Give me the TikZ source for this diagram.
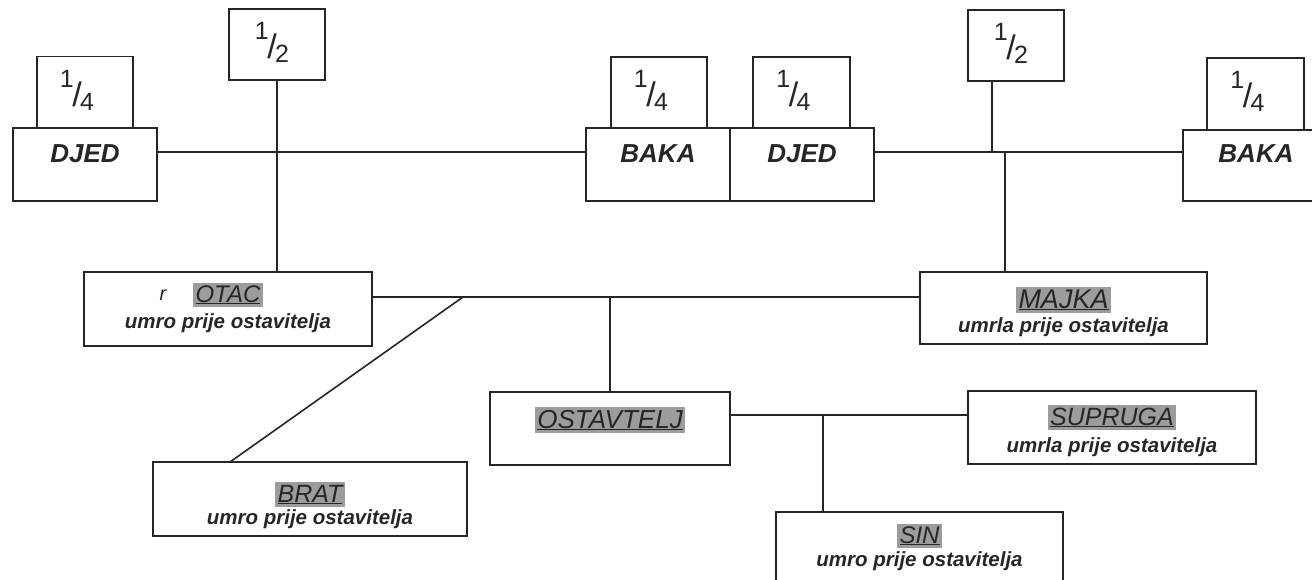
\documentclass[tikz,border=0pt]{standalone}
\usepackage{fontspec}
\setmainfont{Liberation Sans}
\definecolor{ink}{HTML}{262626}
\definecolor{hl}{HTML}{9C9C9C}
\newcommand{\myfrac}[2]{{\fontsize{25}{25}\selectfont\raisebox{19pt}{#1}}\kern-1.5pt{\fontsize{34}{34}\selectfont/}\kern-1.5pt{\fontsize{25}{25}\selectfont\raisebox{-4pt}{#2}}}
\newcommand{\hlword}[2]{{\setlength{\fboxsep}{2.5pt}\colorbox{hl}{\fontsize{#1}{#1}\selectfont\itshape\underline{#2}}}}
\begin{document}
\begin{tikzpicture}[x=1pt,y=-1pt,
  box/.style={draw=ink, line width=1.6pt, fill=white, inner sep=0pt, outer sep=0pt},
  share/.style={box, minimum width=96pt, minimum height=71pt},
  person/.style={box, minimum width=144pt, minimum height=73pt},
  fracnode/.style={anchor=base, inner sep=0pt, text=ink},
  pname/.style={font=\fontsize{26}{26}\selectfont\bfseries\itshape, text=ink, anchor=base, inner sep=0pt},
  subtxt/.style={font=\fontsize{20.5}{20.5}\selectfont\bfseries\itshape, text=ink, anchor=base, inner sep=0pt},
  wordtxt/.style={text=ink, anchor=base, inner sep=0pt},
  link/.style={draw=ink, line width=1.6pt}]
\useasboundingbox (0,0) rectangle (1312,580);
\fill[white] (0,0) rectangle (1312,580);
\clip (0,0) rectangle (1312,580);

% junction coordinates
\coordinate (jL) at (276,152);
\coordinate (jR1) at (992,152);
\coordinate (jR2) at (1005,152);
\coordinate (jM) at (463,297);
\coordinate (jO) at (610,297);
\coordinate (jS) at (823,415);

% share boxes
\node[share] (q1) at (85,92) {};
\node[share] (h1) at (277,44.5) {};
\node[share] (q2) at (659,92.5) {};
\node[share, minimum width=97pt] (q3) at (801.5,92.5) {};
\node[share] (h2) at (1016,45.5) {};
\node[share, minimum width=97pt, minimum height=72pt] (q4) at (1255.5,94) {};

% person boxes
\node[person] (djed1) at (85,164.5) {};
\node[person] (baka1) at (658,164.5) {};
\node[person] (djed2) at (802,164.5) {};
\node[person, minimum width=146pt, minimum height=71pt] (baka2) at (1256,165.5) {};

\node[box, minimum width=288pt, minimum height=74pt] (otac) at (228,309) {};
\node[box, minimum width=287pt, minimum height=72pt] (majka) at (1063.5,308) {};
\node[box, minimum width=240pt, minimum height=73pt] (ostav) at (610,428.5) {};
\node[box, minimum width=288pt, minimum height=73pt] (supr) at (1112,427.5) {};
\node[box, minimum width=314pt, minimum height=74pt] (brat) at (310,499) {};
\node[box, minimum width=287pt, minimum height=78pt] (sin) at (919.5,551) {};
\coordinate (bT) at ([xshift=77pt]brat.north west);

% connectors
\draw[link] (djed1.east |- jL) -- (baka1.west |- jL);
\draw[link] (h1.south) -- (h1.south |- otac.north);
\draw[link] (djed2.east |- jL) -- (baka2.west |- jL);
\draw[link] (jR1 |- h2.south) -- (jR1);
\draw[link] (jR2) -- (jR2 |- majka.north);
\draw[link] (otac.east |- jM) -- (majka.west |- jM);
\draw[link] (jM) -- (bT);
\draw[link] (jO) -- (ostav.north);
\draw[link] (ostav.east |- jS) -- (supr.west |- jS);
\draw[link] (jS) -- (jS |- sin.north);

% fractions
\node[fracnode] (f1) at ([xshift=-8pt,yshift=-50pt]q1.north) {\myfrac{1}{4}};
\node[fracnode] (f2) at ([xshift=-5pt,yshift=-50pt]h1.north) {\myfrac{1}{2}};
\node[fracnode] (f3) at ([xshift=-8pt,yshift=-50pt]q2.north) {\myfrac{1}{4}};
\node[fracnode] (f4) at ([xshift=-8pt,yshift=-50pt]q3.north) {\myfrac{1}{4}};
\node[fracnode] (f5) at ([xshift=-5pt,yshift=-50pt]h2.north) {\myfrac{1}{2}};
\node[fracnode] (f6) at ([xshift=-8pt,yshift=-50pt]q4.north) {\myfrac{1}{4}};

% names
\node[pname] (n1) at ([yshift=-35pt]djed1.north) {DJED};
\node[pname] (n2) at ([yshift=-35pt]baka1.north) {BAKA};
\node[pname] (n3) at ([yshift=-35pt]djed2.north) {DJED};
\node[pname] (n4) at ([yshift=-33pt]baka2.north) {BAKA};

% lower texts
\node[wordtxt] (w1) at ([yshift=-30pt]otac.north) {\hlword{24}{OTAC}};
\node[wordtxt, font=\fontsize{20}{20}\selectfont\itshape] (r1) at ([xshift=79pt,yshift=-28pt]otac.north west) {r};
\node[subtxt] (s1) at ([yshift=-56pt]otac.north) {umro prije ostavitelja};
\node[wordtxt] (w2) at ([yshift=-36pt]majka.north) {\hlword{27}{MAJKA}};
\node[subtxt] (s2) at ([yshift=-60pt]majka.north) {umrla prije ostavitelja};
\node[wordtxt] (w3) at ([yshift=-36pt]ostav.north) {\hlword{26}{OSTAVTELJ}};
\node[wordtxt] (w4) at ([yshift=-34pt]supr.north) {\hlword{25}{SUPRUGA}};
\node[subtxt] (s4) at ([yshift=-61pt]supr.north) {umrla prije ostavitelja};
\node[wordtxt] (w5) at ([yshift=-40pt]brat.north) {\hlword{25}{BRAT}};
\node[subtxt] (s5) at ([yshift=-62pt]brat.north) {umro prije ostavitelja};
\node[wordtxt] (w6) at ([yshift=-31pt]sin.north) {\hlword{24}{SIN}};
\node[subtxt] (s6) at ([yshift=-54pt]sin.north) {umro prije ostavitelja};
\end{tikzpicture}
\end{document}
